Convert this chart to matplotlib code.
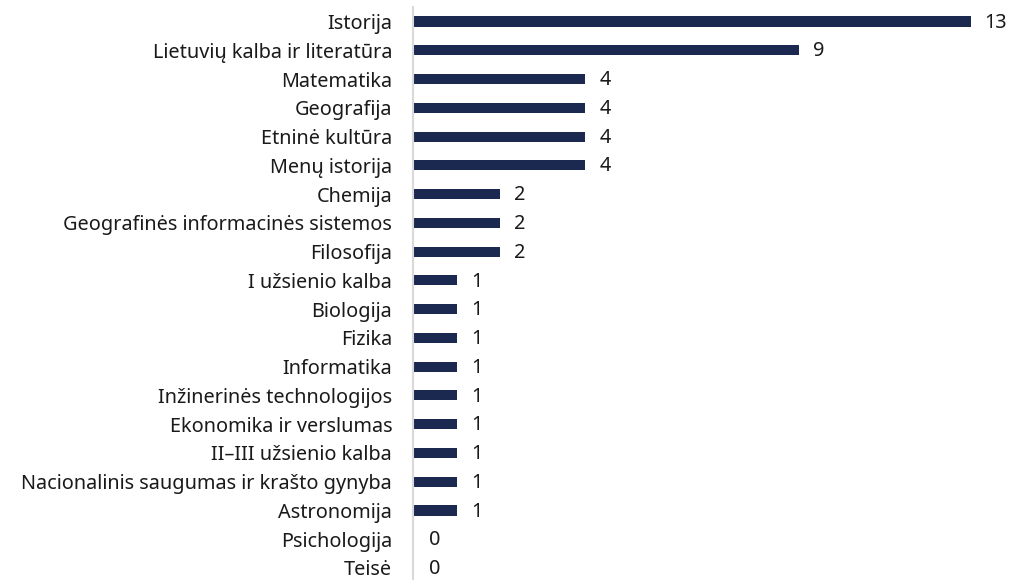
import matplotlib
matplotlib.use("Agg")
import matplotlib.pyplot as plt

subjects = [
    "Istorija", "Lietuvių kalba ir literatūra", "Matematika", "Geografija",
    "Etninė kultūra", "Menų istorija", "Chemija",
    "Geografinės informacinės sistemos", "Filosofija", "I užsienio kalba",
    "Biologija", "Fizika", "Informatika", "Inžinerinės technologijos",
    "Ekonomika ir verslumas", "II–III užsienio kalba",
    "Nacionalinis saugumas ir krašto gynyba", "Astronomija",
    "Psichologija", "Teisė",
]
counts = [13, 9, 4, 4, 4, 4, 2, 2, 2, 1, 1, 1, 1, 1, 1, 1, 1, 1, 0, 0]

plt.rcParams["font.family"] = ["Noto Sans", "DejaVu Sans"]

W, H = 1018, 580
fig = plt.figure(figsize=(W / 100, H / 100), dpi=100)
ax_left, ax_right = 413, 1010
first_row, last_row = 21.5, 568
row = (last_row - first_row) / (len(subjects) - 1)
top = first_row - row / 2
bottom = last_row + row / 2
ax = fig.add_axes([ax_left / W, 1 - bottom / H, (ax_right - ax_left) / W, (bottom - top) / H])

unit = 42.8  # pixels per count
bar_color = "#1b2850"
ypos = list(range(len(subjects)))
ax.barh(ypos, counts, height=0.35, color=bar_color, left=0.03)
ax.set_ylim(len(subjects) - 0.5, -0.5)
ax.set_xlim(0, (ax_right - ax_left) / unit)

fs = 14.3
for y, v in zip(ypos, counts):
    x = v + 0.03 + 14 / unit if v > 0 else 0.38
    ax.text(x, y + 0.04, str(v), va="center", ha="left", fontsize=fs, color="#1a1a1a")

ax.set_yticks(ypos)
ax.set_yticklabels(subjects, fontsize=fs, color="#1a1a1a")
ax.tick_params(axis="y", length=0, pad=15)
ax.set_xticks([])
for s in ["top", "right", "bottom"]:
    ax.spines[s].set_visible(False)
ax.spines["left"].set_color("#d9d9d9")
ax.spines["left"].set_linewidth(1.5)

fig.savefig("out.png", dpi=100)
